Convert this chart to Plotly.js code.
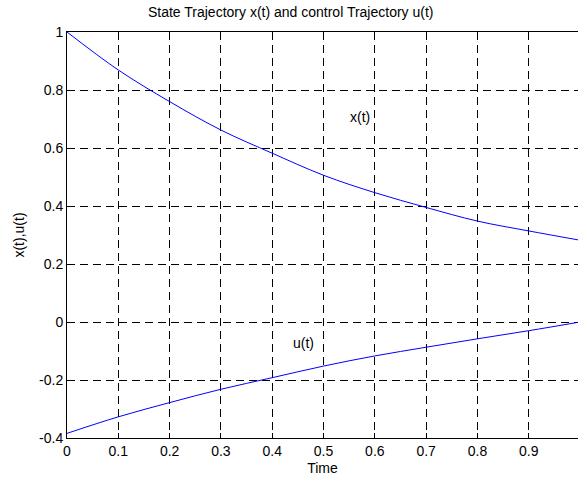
<!DOCTYPE html>
<html>
<head>
<meta charset="utf-8">
<script src="https://cdn.plot.ly/plotly-3.0.1.min.js"></script>
<style>html,body{margin:0;padding:0;background:#fff;}#chart{width:578px;height:482px;}</style>
</head>
<body>
<div id="chart"></div>
<script>
var time = [0, 0.1, 0.2, 0.3, 0.4, 0.5, 0.6, 0.7, 0.8, 0.9, 1.0];
var xState = [1.0, 0.869, 0.760, 0.662, 0.582, 0.506, 0.446, 0.395, 0.348, 0.314, 0.282];
var uControl = [-0.384, -0.327, -0.278, -0.232, -0.192, -0.152, -0.117, -0.087, -0.058, -0.030, 0.0];
var xTickVals = [0, 0.1, 0.2, 0.3, 0.4, 0.5, 0.6, 0.7, 0.8, 0.9];
var xTickText = ["0", "0.1", "0.2", "0.3", "0.4", "0.5", "0.6", "0.7", "0.8", "0.9"];
var yTickVals = [-0.4, -0.2, 0, 0.2, 0.4, 0.6, 0.8, 1];
var yTickText = ["-0.4", "-0.2", "0", "0.2", "0.4", "0.6", "0.8", "1"];

var font = {family: "Liberation Sans, Arial, sans-serif", size: 14, color: "#000"};
var traces = [
  {x: time, y: xState, mode: "lines", line: {color: "#0000ff", width: 1, shape: "spline"}, name: "x(t)", hoverinfo: "skip"},
  {x: time, y: uControl, mode: "lines", line: {color: "#0000ff", width: 1, shape: "spline"}, name: "u(t)", hoverinfo: "skip"}
];
var layout = {
  width: 578, height: 482,
  margin: {l: 67, r: 0, t: 32, b: 44, pad: 0},
  paper_bgcolor: "#fff", plot_bgcolor: "#fff",
  showlegend: false,
  font: font,
  title: {text: "State Trajectory x(t) and control Trajectory u(t)", font: {family: font.family, size: 14, color: "#000"}, x: 0.503, xref: "container", xanchor: "center", y: 0.975, yref: "container", yanchor: "middle"},
  xaxis: {
    range: [0, 0.996], tickvals: xTickVals, ticktext: xTickText,
    ticks: "inside", ticklen: 5, tickcolor: "#000", tickwidth: 1,
    showline: true, linecolor: "#000", linewidth: 1, mirror: "ticks",
    showgrid: true, gridcolor: "#000", griddash: "8px,5px", gridwidth: 1,
    zeroline: false, tickfont: font,
    title: {text: "Time", font: font, standoff: 5}
  },
  yaxis: {
    range: [-0.4, 1], tickvals: yTickVals, ticktext: yTickText,
    ticks: "inside", ticklen: 5, tickcolor: "#000", tickwidth: 1,
    showline: true, linecolor: "#000", linewidth: 1,
    showgrid: true, gridcolor: "#000", griddash: "8px,5px", gridwidth: 1,
    zeroline: false, tickfont: font,
    title: {text: "x(t),u(t)", font: font, standoff: 11}
  },
  annotations: [
    {x: 0.571, y: 0.707, xref: "x", yref: "y", text: "x(t)", showarrow: false, font: font},
    {x: 0.460, y: -0.071, xref: "x", yref: "y", text: "u(t)", showarrow: false, font: font}
  ]
};
Plotly.newPlot("chart", traces, layout, {displayModeBar: false, staticPlot: true});
</script>
</body>
</html>
